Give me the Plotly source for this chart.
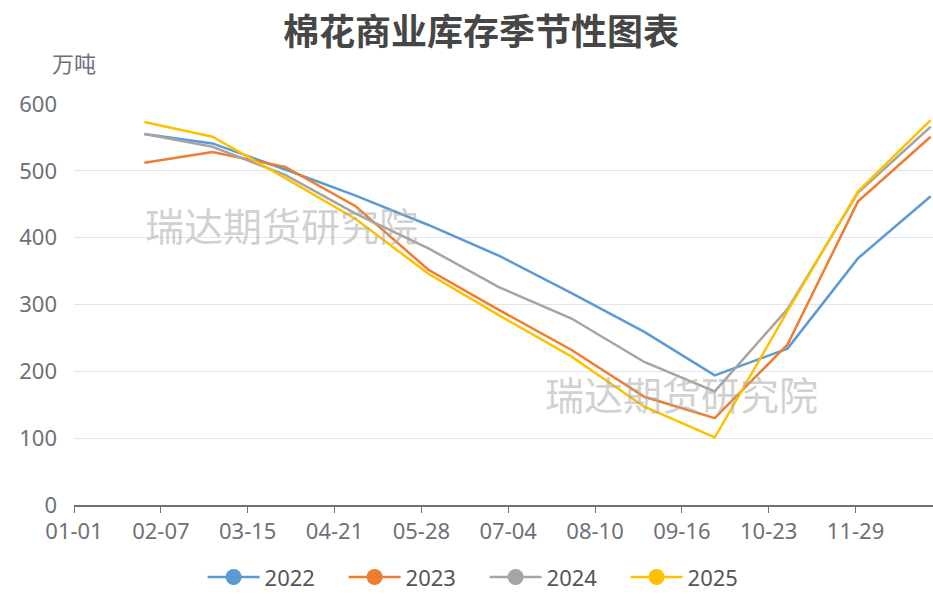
import plotly.graph_objects as go

dates = ["2024-01-31", "2024-02-29", "2024-03-31", "2024-04-30", "2024-05-31", "2024-06-30",
         "2024-07-31", "2024-08-31", "2024-09-30", "2024-10-31", "2024-11-30", "2024-12-31"]

s2022 = [555, 541, 502, 463, 419, 373, 317, 259, 194, 234, 369, 462]
s2023 = [512, 528, 506, 447, 352, 292, 232, 162, 130, 240, 454, 551]
s2024 = [555, 536, 494, 436, 384, 326, 279, 214, 170, 293, 467, 566]
s2025 = [573, 551, 489, 428, 346, 284, 222, 147, 101, 290, 469, 576]

series = [("2022", s2022, "#5B9BD5"), ("2023", s2023, "#ED7D31"),
          ("2024", s2024, "#A5A5A5"), ("2025", s2025, "#FFC000")]

tick_vals = ["2024-01-01", "2024-02-07", "2024-03-15", "2024-04-21", "2024-05-28",
             "2024-07-04", "2024-08-10", "2024-09-16", "2024-10-23", "2024-11-29"]
tick_text = ["01-01", "02-07", "03-15", "04-21", "05-28", "07-04", "08-10", "09-16", "10-23", "11-29"]

font_family = "Noto Sans, Noto Sans CJK SC, sans-serif"
cjk_family = "Noto Sans CJK SC, Noto Sans, sans-serif"

fig = go.Figure()
for name, vals, color in series:
    fig.add_trace(go.Scatter(
        x=dates, y=vals, name=name, mode="lines", showlegend=False,
        line=dict(color=color, width=2.5),
    ))
# legend entries (line + circle symbol)
for name, vals, color in series:
    fig.add_trace(go.Scatter(
        x=[None], y=[None], name=name, mode="lines+markers",
        line=dict(color=color, width=2.5),
        marker=dict(size=16, color=color),
    ))

fig.update_layout(
    width=933, height=594,
    margin=dict(l=74, r=0, t=104, b=89, autoexpand=False),
    paper_bgcolor="white", plot_bgcolor="white",
    font=dict(family=font_family, color="#6E7079"),
    title=dict(text="<b>棉花商业库存季节性图表</b>", x=0.5155, xanchor="center",
               y=0.946, yanchor="middle",
               font=dict(size=36, color="#464646", family=cjk_family)),
    legend=dict(orientation="h", x=0.478, xanchor="center", y=-0.18, yanchor="middle",
                font=dict(size=22, color="#555555"), itemwidth=52,
                entrywidth=74, entrywidthmode="pixels",
                traceorder="normal"),
    showlegend=True,
)

fig.update_xaxes(
    type="date", range=["2024-01-01", "2025-01-01"],
    tickvals=tick_vals, ticktext=tick_text,
    showgrid=False, showline=True, linecolor="#6E7079", linewidth=1.5,
    ticks="outside", ticklen=6, tickcolor="#6E7079",
    tickfont=dict(size=22, color="#6E7079"), zeroline=False,
)
fig.update_yaxes(
    range=[0, 600], dtick=100, showgrid=True, gridcolor="#E0E6F1", gridwidth=1,
    showline=False, zeroline=False, ticks="",
    tickfont=dict(size=22, color="#6E7079"), ticklabelstandoff=16,
)

fig.add_annotation(text="万吨", xref="paper", yref="paper", x=0.0, y=1.105,
                   xanchor="center", yanchor="middle", showarrow=False,
                   font=dict(size=22, color="#6E7079", family=cjk_family))

for xp, yp in [(0.2412, 0.7007), (0.707, 0.2793)]:
    fig.add_annotation(text="瑞达期货研究院", xref="paper", yref="paper", x=xp, y=yp,
                       xanchor="center", yanchor="middle", showarrow=False,
                       font=dict(size=39, color="rgba(170,170,170,0.55)", family=cjk_family))

fig.write_html("out.html", config={"displayModeBar": False},
               post_script="document.body.style.margin='0';document.body.style.overflow='hidden';")
